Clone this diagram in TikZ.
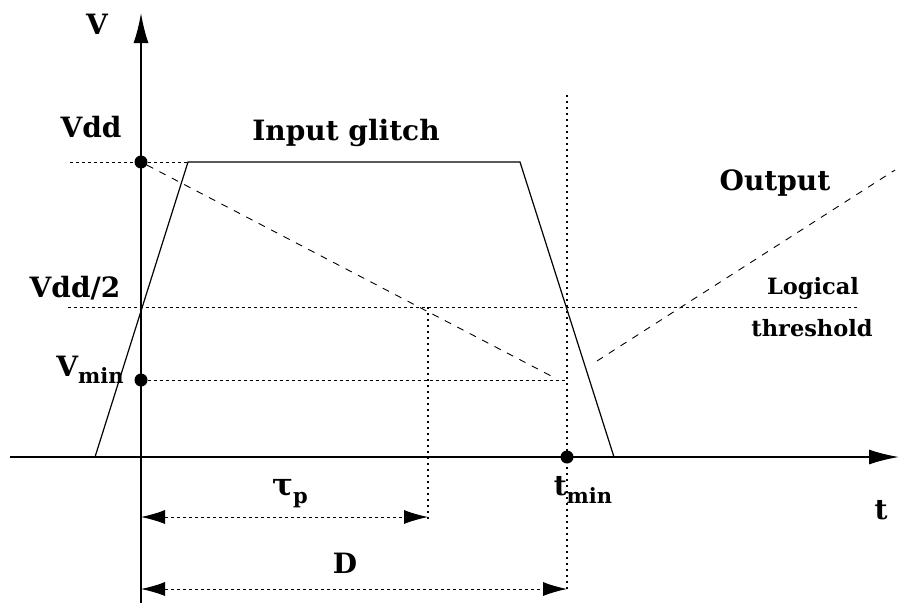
\documentclass[tikz,border=0pt]{standalone}
\usepackage{fontspec}
\setmainfont{DejaVu Serif}
\usetikzlibrary{arrows.meta}

\newcommand{\lowsub}[1]{\raisebox{-0.5ex}{\fontsize{21}{21}\selectfont #1}}

\begin{document}
\begin{tikzpicture}[x=1pt,y=-1pt,
    >={Latex[length=24pt,width=14pt]},
    axis/.style={line width=1.8pt,-{Latex[length=30pt,width=15pt]}},
    guide/.style={line width=0.9pt,dash pattern=on 3pt off 3pt},
    vguide/.style={line width=1.1pt,dash pattern=on 2pt off 4pt},
    signal/.style={line width=1.2pt},
    slope/.style={line width=0.9pt,dash pattern=on 7pt off 7pt},
    dot/.style={circle,fill,inner sep=0pt,minimum size=13pt},
    lbl/.style={font=\fontsize{28}{30}\selectfont\bfseries,inner sep=0pt},
    small/.style={font=\fontsize{22.5}{24}\selectfont\bfseries,inner sep=0pt}]
  \useasboundingbox (0,0) rectangle (899,605);

  % axes
  \coordinate (xs) at (10,457);
  \coordinate (xe) at (899,457);
  \coordinate (ys) at (141,603);
  \coordinate (ye) at (141,13);
  \draw[axis] (xs) -- (xe);
  \draw[axis] (ys) -- (ye);

  % levels and instants
  \coordinate (vddl) at (70,162);
  \coordinate (vddr) at (188,162);
  \coordinate (halfl) at (68,307);
  \coordinate (halfr) at (858,307);
  \coordinate (minr) at (565,380);
  \coordinate (taut) at (428,307);
  \coordinate (taub) at (428,520);
  \coordinate (tmint) at (567,95);
  \coordinate (tminb) at (567,590);
  \draw[guide] (vddl) -- (vddr);
  \draw[guide] (halfl) -- (halfr);
  \node[dot] (vdd) at (141,162) {};
  \node[dot] (vmin) at (141,380) {};
  \node[dot] (tmin) at (567,457) {};
  \draw[guide] (vmin) -- (minr);
  \draw[vguide] (taut) -- (taub);
  \draw[vguide] (tmint) -- (tminb);

  % input glitch
  \coordinate (in0) at (95,457);
  \coordinate (in1) at (188,162);
  \coordinate (in2) at (520,162);
  \coordinate (in3) at (614,457);
  \draw[signal] (in0) -- (in1) -- (in2) -- (in3);

  % output
  \coordinate (fall) at (555,378);
  \coordinate (rise0) at (597,361);
  \coordinate (rise1) at (895,170);
  \draw[slope] (vdd) -- (fall);
  \draw[slope] (rise0) -- (rise1);

  % delays
  \coordinate (taul) at (141,517);
  \coordinate (taur) at (428,517);
  \coordinate (dl) at (141,589);
  \coordinate (dr) at (567,589);
  \draw[guide,<->] (taul) -- (taur);
  \draw[guide,<->] (dl) -- (dr);

  % labels
  \node[lbl] (lv) at (97,24) {V};
  \node[lbl] (lvdd) at (91,127) {Vdd};
  \node[lbl] (lhalf) at (75,288) {Vdd/2};
  \node[lbl] (lvmin) at (90,370) {V\lowsub{min}};
  \node[lbl] (lin) at (346,133) {Input glitch};
  \node[lbl] (lout) at (775,183) {Output};
  \node[small] (llog) at (813,288) {Logical};
  \node[small] (lthr) at (812,328) {threshold};
  \node[lbl,font=\fontsize{31}{33}\selectfont\bfseries] (ltau) at (290,494) {τ\lowsub{p}};
  \node[lbl] (ltmin) at (583,490) {t\lowsub{min}};
  \node[lbl] (lt) at (881,510) {t};
  \node[lbl] (ld) at (345,563) {D};
\end{tikzpicture}
\end{document}
